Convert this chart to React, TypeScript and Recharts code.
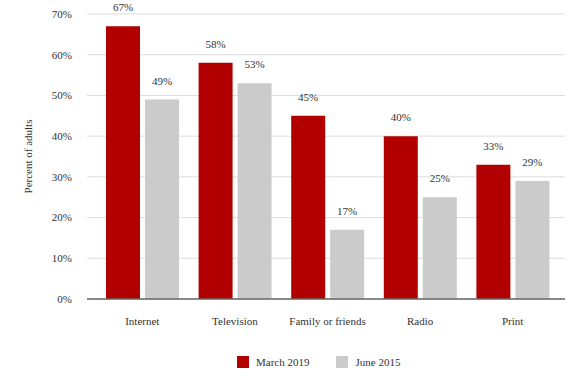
import React from 'react';
import {
  BarChart, Bar, XAxis, YAxis, CartesianGrid, Legend, LabelList,
} from 'recharts';

const CATEGORIES = ['Internet', 'Television', 'Family or friends', 'Radio', 'Print'];
const MARCH_2019 = [67, 58, 45, 40, 33];
const JUNE_2015 = [49, 53, 17, 25, 29];
const Y_TICKS = [0, 10, 20, 30, 40, 50, 60, 70];

const SERIES = [
  { key: 'march', name: 'March 2019', color: '#b20000' },
  { key: 'june', name: 'June 2015', color: '#cbcbcb' },
];

const FONT = 'Liberation Serif, serif';
const TEXT = '#333333';
const FS = 11;

const chartData = CATEGORIES.map((c, i) => ({
  name: c,
  march: MARCH_2019[i],
  june: JUNE_2015[i],
}));

function CustomLegend() {
  return (
    <div style={{ height: 52, paddingTop: 26, boxSizing: 'border-box', display: 'flex', paddingLeft: 237 }}>
      {SERIES.map(s => (
        <div key={s.key} style={{ display: 'flex', alignItems: 'center', marginRight: 27, height: 14 }}>
          <div style={{ width: 12, height: 12, backgroundColor: s.color, marginRight: 7 }} />
          <span style={{ fontFamily: FONT, fontSize: FS, color: TEXT }}>{s.name}</span>
        </div>
      ))}
    </div>
  );
}

export default function App() {
  return (
    <div style={{ position: 'absolute', left: 0, top: 0, width: 570, height: 381, background: '#fff', fontFamily: FONT }}>
      <BarChart
        width={570}
        height={381}
        data={chartData}
        margin={{ top: 14, right: 5, left: 0, bottom: 0 }}
        barCategoryGap={10}
        barGap={5}
      >
        <CartesianGrid vertical={false} stroke="#dddddd" />
        <XAxis
          dataKey="name"
          height={30}
          padding={{ left: 9, right: 6 }}
          tickLine={false}
          tickSize={0}
          tickMargin={18}
          axisLine={{ stroke: '#666666', strokeWidth: 1.5 }}
          tick={{ fontFamily: FONT, fontSize: FS, fill: TEXT }}
          interval={0}
        />
        <YAxis
          width={87}
          domain={[0, 70]}
          ticks={Y_TICKS}
          tickFormatter={v => `${v}%`}
          axisLine={false}
          tickLine={false}
          tickSize={0}
          tickMargin={15}
          tick={{ fontFamily: FONT, fontSize: FS, fill: TEXT }}
          label={{
            value: 'Percent of adults',
            angle: -90,
            position: 'insideLeft',
            offset: 28,
            style: { textAnchor: 'middle', fontFamily: FONT, fontSize: FS, fill: TEXT },
          }}
        />
        <Legend verticalAlign="bottom" content={<CustomLegend />} />
        {SERIES.map(s => (
          <Bar key={s.key} dataKey={s.key} name={s.name} fill={s.color} isAnimationActive={false}>
            <LabelList
              dataKey={s.key}
              position="top"
              offset={15}
              formatter={(v: any) => `${v}%`}
              style={{ fontFamily: FONT, fontSize: FS, fill: TEXT }}
            />
          </Bar>
        ))}
      </BarChart>
    </div>
  );
}
